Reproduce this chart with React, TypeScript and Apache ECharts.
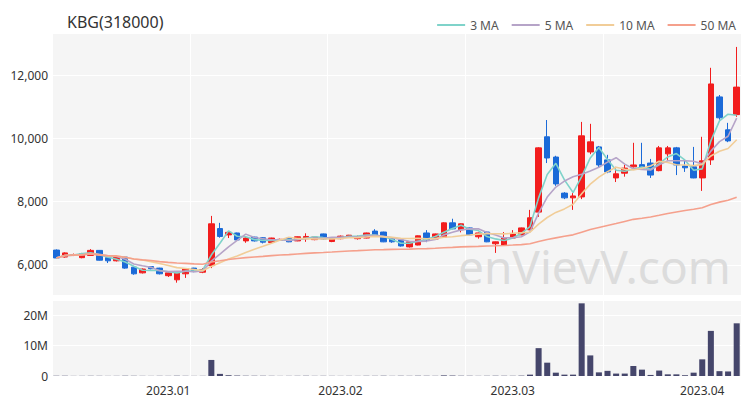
import React, { useEffect, useRef } from "react";
import * as echarts from "echarts";

const dates: string[] = [
  "2022-12-13","2022-12-14","2022-12-15","2022-12-16","2022-12-19","2022-12-20","2022-12-21","2022-12-22","2022-12-23","2022-12-26","2022-12-27","2022-12-28","2022-12-29",
  "2023-01-02","2023-01-03","2023-01-04","2023-01-05","2023-01-06","2023-01-09","2023-01-10","2023-01-11","2023-01-12","2023-01-13","2023-01-16","2023-01-17","2023-01-18","2023-01-19","2023-01-20","2023-01-25","2023-01-26","2023-01-27","2023-01-30","2023-01-31",
  "2023-02-01","2023-02-02","2023-02-03","2023-02-06","2023-02-07","2023-02-08","2023-02-09","2023-02-10","2023-02-13","2023-02-14","2023-02-15","2023-02-16","2023-02-17","2023-02-20","2023-02-21","2023-02-22","2023-02-23","2023-02-24","2023-02-27","2023-02-28",
  "2023-03-02","2023-03-03","2023-03-06","2023-03-07","2023-03-08","2023-03-09","2023-03-10","2023-03-13","2023-03-14","2023-03-15","2023-03-16","2023-03-17","2023-03-20","2023-03-21","2023-03-22","2023-03-23","2023-03-24","2023-03-27","2023-03-28","2023-03-29","2023-03-30","2023-03-31",
  "2023-04-03","2023-04-04","2023-04-05","2023-04-06","2023-04-07",
];

const openP: number[] = [
  6470, 6250, 6300, 6230, 6300, 6460, 6230, 6130, 6250, 5930, 5750, 5950, 5900,
  5660, 5530, 5720, 5900, 5770, 5980, 7150, 6950, 7010, 6760, 6880, 6860, 6710, 6780, 6850, 6760, 6830, 6800, 6980, 6740,
  6830, 6880, 6830, 6850, 7070, 7040, 6850, 6790, 6570, 6630, 7010, 6820, 6880, 7330, 7110, 7170, 6890, 7040, 6670, 6630,
  6850, 6950, 7110, 7670, 10050, 9410, 8270, 8120, 8150, 9570, 9730, 9320, 8750, 8900, 9100, 9170, 9220, 8980, 9510, 9700, 9130, 9100,
  8750, 9320, 11310, 10270, 10750,
];
const closeP: number[] = [
  6220, 6380, 6330, 6360, 6460, 6150, 6130, 6250, 5900, 5720, 5870, 5880, 5720,
  5750, 5780, 5880, 5790, 5850, 7300, 6900, 7030, 6790, 6850, 6760, 6720, 6850, 6810, 6730, 6890, 6900, 6880, 6820, 6860,
  6910, 6940, 6880, 7010, 6950, 6730, 6730, 6600, 6730, 6920, 6790, 6980, 7330, 7140, 7300, 6950, 7010, 6730, 6730, 6850,
  6980, 7170, 7490, 9700, 9380, 8560, 8120, 8180, 10080, 9890, 9160, 8940, 8880, 9060, 9160, 9060, 8840, 9700, 9700, 9160, 9070, 8750,
  9290, 11720, 10650, 9920, 11620,
];
const lowP: number[] = [
  6190, 6230, 6280, 6210, 6290, 6140, 6060, 6110, 5880, 5690, 5730, 5860, 5700,
  5620, 5440, 5590, 5770, 5740, 5900, 6860, 6850, 6780, 6700, 6740, 6680, 6700, 6760, 6720, 6750, 6730, 6780, 6800, 6720,
  6810, 6860, 6800, 6840, 6940, 6720, 6700, 6580, 6550, 6620, 6720, 6810, 6870, 7130, 7030, 6940, 6830, 6720, 6380, 6620,
  6840, 6940, 7100, 7520, 9220, 8500, 8080, 7740, 8080, 9500, 9080, 8900, 8620, 8790, 9080, 9030, 8750, 8960, 9320, 8840, 8940, 8740,
  8340, 9160, 10590, 9880, 10680,
];
const highP: number[] = [
  6490, 6400, 6360, 6380, 6500, 6470, 6250, 6270, 6260, 5940, 5890, 5960, 5910,
  5790, 5800, 5890, 5910, 5900, 7550, 7330, 7060, 7020, 6870, 6890, 6880, 6860, 6830, 6860, 6900, 7000, 6900, 6990, 6880,
  6930, 6950, 6930, 7020, 7130, 7050, 6860, 6800, 6740, 6930, 7100, 6990, 7350, 7460, 7310, 7180, 7020, 7050, 6740, 7040,
  7100, 7180, 7740, 9720, 10580, 9450, 8300, 8270, 10520, 10460, 9760, 9480, 9100, 9160, 9860, 9860, 9350, 9760, 9760, 9730, 9290, 9730,
  10050, 12230, 11370, 10490, 12890,
];
const volumes: number[] = [
  80000, 60000, 40000, 50000, 70000, 60000, 40000, 50000, 90000, 70000, 50000, 40000, 60000,
  50000, 90000, 60000, 40000, 50000, 5300000, 700000, 250000, 150000, 90000, 70000, 80000, 60000, 40000, 50000, 60000, 80000, 50000, 60000, 50000,
  40000, 50000, 40000, 70000, 60000, 90000, 50000, 80000, 60000, 90000, 80000, 60000, 200000, 150000, 90000, 80000, 50000, 70000, 90000, 80000,
  70000, 120000, 450000, 9200000, 4400000, 1100000, 450000, 450000, 24000000, 6800000, 1200000, 1700000, 800000, 800000, 3300000, 2100000, 350000, 1800000, 550000, 550000, 250000, 1100000,
  5500000, 14900000, 1600000, 1500000, 17400000,
];

const maPeriods: number[] = [3, 5, 10, 50];
const maNames: string[] = ["3 MA", "5 MA", "10 MA", "50 MA"];
const maColors: string[] = ["#7fd3ca", "#b6a4c8", "#f1cd98", "#f5a08c"];

function movingAvg(values: number[], n: number): number[] {
  return values.map((_, i) => {
    const start = Math.max(0, i - n + 1);
    let s = 0;
    for (let k = start; k <= i; k++) s += values[k];
    return Math.round(s / (i - start + 1));
  });
}

const monthStart = (i: number) =>
  i > 0 && dates[i].slice(0, 7) !== dates[i - 1].slice(0, 7);

export default function App() {
  const ref = useRef<HTMLDivElement>(null);
  useEffect(() => {
    if (!ref.current) return;
    const chart = echarts.init(ref.current, undefined, { renderer: "svg" });
    const font = "Noto Sans";
    const candleData = dates.map((_, i) => [openP[i], closeP[i], lowP[i], highP[i]]);
    chart.setOption({
      animation: false,
      backgroundColor: "#ffffff",
      textStyle: { fontFamily: font },
      title: {
        text: "KBG(318000)",
        left: 62,
        top: 9,
        textStyle: { fontSize: 16, fontWeight: "normal", color: "#333", fontFamily: font },
      },
      legend: {
        data: maNames,
        right: 9,
        top: 14,
        icon: "rect",
        itemWidth: 28,
        itemHeight: 2,
        itemGap: 13,
        textStyle: { fontSize: 12, color: "#555", fontFamily: font },
      },
      grid: [
        { left: 52, right: 9, top: 33, height: 262, show: true, backgroundColor: "#f5f5f5", borderWidth: 0 },
        { left: 52, right: 9, top: 300, height: 76, show: true, backgroundColor: "#f5f5f5", borderWidth: 0 },
      ],
      xAxis: [
        {
          type: "category",
          data: dates,
          gridIndex: 0,
          boundaryGap: true,
          axisLine: { show: false },
          axisTick: { show: false },
          axisLabel: { show: false },
          splitLine: { show: true, interval: 15, lineStyle: { color: "#ffffff", width: 1 } },
        },
        {
          type: "category",
          data: dates,
          gridIndex: 1,
          boundaryGap: true,
          axisLine: { show: false },
          axisTick: { show: false },
          axisLabel: {
            interval: (i: number) => monthStart(i),
            formatter: (v: string) => v.slice(0, 4) + "." + v.slice(5, 7),
            fontSize: 12,
            color: "#333",
            margin: 8,
            fontFamily: font,
          },
          splitLine: { show: true, interval: 15, lineStyle: { color: "#ffffff", width: 1 } },
        },
      ],
      yAxis: [
        {
          type: "value",
          gridIndex: 0,
          min: 5050,
          max: 13330,
          splitNumber: 4,
          axisLine: { show: false },
          axisTick: { show: false },
          axisLabel: {
            showMinLabel: false,
            showMaxLabel: false,
            margin: 4,
            fontSize: 12,
            color: "#333",
            fontFamily: font,
            formatter: (v: number) => v.toLocaleString("en-US"),
          },
          splitLine: { lineStyle: { color: "#ffffff", width: 1 } },
        },
        {
          type: "value",
          gridIndex: 1,
          min: 0,
          max: 25100000,
          interval: 10000000,
          axisLine: { show: false },
          axisTick: { show: false },
          axisLabel: {
            showMaxLabel: false,
            margin: 4,
            fontSize: 12,
            color: "#333",
            fontFamily: font,
            formatter: (v: number) => (v === 0 ? "0" : v / 1000000 + "M"),
          },
          splitLine: { lineStyle: { color: "#ffffff", width: 1 } },
        },
      ],
      graphic: [
        {
          type: "text",
          left: 458,
          top: 243,
          z: 1,
          silent: true,
          style: {
            text: "enVievV.com",
            fontSize: 46,
            fontFamily: font,
            fill: "#dcdcdc",
          },
        },
      ],
      series: [
        {
          type: "candlestick",
          name: "KBG",
          xAxisIndex: 0,
          yAxisIndex: 0,
          data: candleData,
          barWidth: "70%",
          itemStyle: {
            color: "#f21d1d",
            color0: "#1b6ad8",
            borderColor: "#f21d1d",
            borderColor0: "#1b6ad8",
            borderWidth: 1,
          },
          z: 3,
        },
        ...maPeriods.map((p, k) => ({
          type: "line",
          name: maNames[k],
          xAxisIndex: 0,
          yAxisIndex: 0,
          data: movingAvg(closeP, p),
          symbol: "none",
          showSymbol: false,
          smooth: false,
          lineStyle: { width: 1.6, color: maColors[k] },
          itemStyle: { color: maColors[k] },
          z: 4,
        })),
        {
          type: "bar",
          name: "Volume",
          xAxisIndex: 1,
          yAxisIndex: 1,
          data: volumes,
          barWidth: "70%",
          itemStyle: { color: "#45466b" },
        },
      ],
    });
    return () => chart.dispose();
  }, []);
  return (
    <div
      ref={ref}
      style={{ position: "fixed", left: 0, top: 0, width: 750, height: 400 }}
    />
  );
}
